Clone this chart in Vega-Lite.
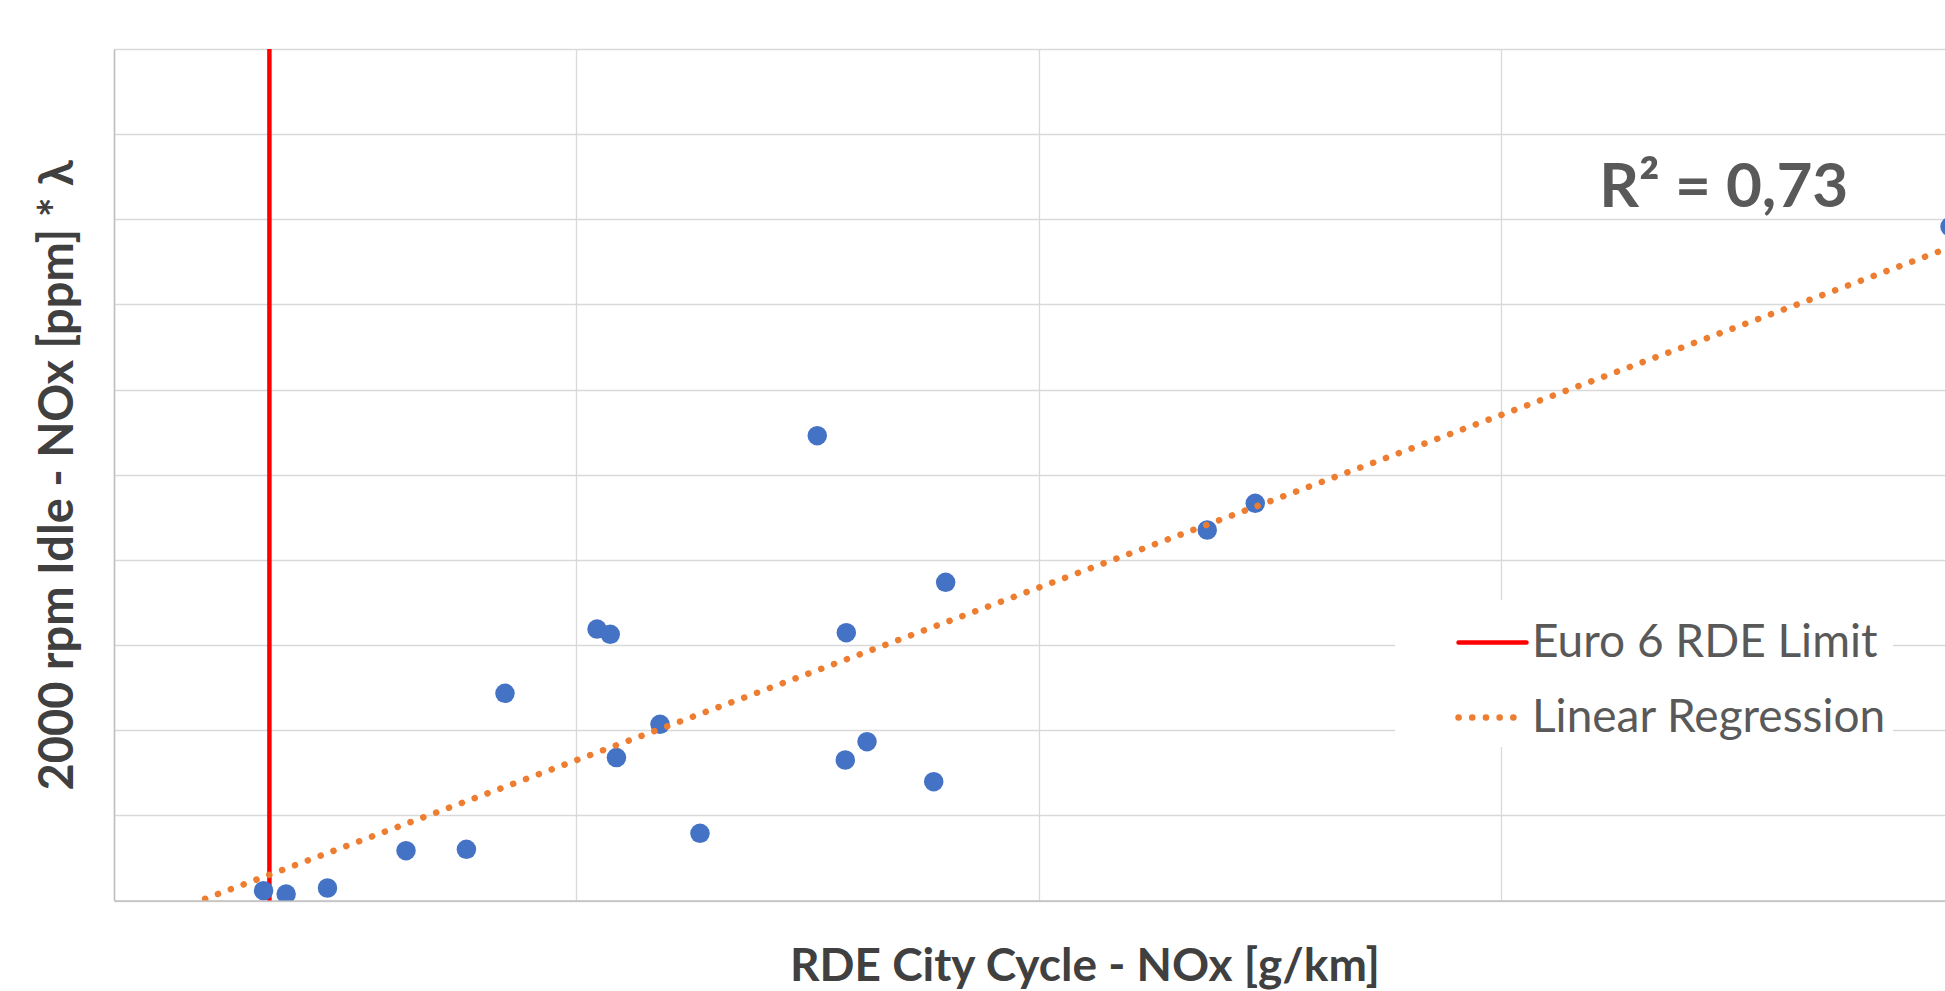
{
  "$schema": "https://vega.github.io/schema/vega-lite/v6.json",
  "width": 1831,
  "height": 851.5,
  "autosize": {"type": "none"},
  "padding": {"left": 114, "top": 49, "right": 0, "bottom": 90.5},
  "background": "white",
  "config": {"view": {"stroke": null}, "font": "Lato"},
  "datasets": {
    "points": [
      {"x": 0.1617, "y": 11.5},
      {"x": 0.1861, "y": 7.6},
      {"x": 0.2308, "y": 14.7},
      {"x": 0.3157, "y": 58.5},
      {"x": 0.3810, "y": 60.1},
      {"x": 0.4227, "y": 243.3},
      {"x": 0.5222, "y": 318.8},
      {"x": 0.5365, "y": 312.6},
      {"x": 0.5432, "y": 167.9},
      {"x": 0.5903, "y": 206.9},
      {"x": 0.6335, "y": 78.9},
      {"x": 0.7603, "y": 545.9},
      {"x": 0.7906, "y": 165.0},
      {"x": 0.7917, "y": 314.5},
      {"x": 0.8141, "y": 186.5},
      {"x": 0.8862, "y": 139.5},
      {"x": 0.8991, "y": 373.7},
      {"x": 1.1819, "y": 435.1},
      {"x": 1.2338, "y": 466.5},
      {"x": 1.9849, "y": 791.3}
    ],
    "limit": [
      {"series": "Euro 6 RDE Limit", "x": 0.168, "y": 0},
      {"series": "Euro 6 RDE Limit", "x": 0.168, "y": 1000}
    ],
    "trend": [
      {"series": "Linear Regression", "x": 0.0985, "y": 2},
      {"series": "Linear Regression", "x": 2.0, "y": 773.1}
    ],
    "label": [
      {"x": 1.6057, "y": 814.1, "text": "R² = 0,73"}
    ]
  },
  "encoding": {
    "x": {
      "field": "x",
      "type": "quantitative",
      "scale": {"domain": [0, 1.9795], "nice": false, "zero": false},
      "axis": {
        "title": "RDE City Cycle - NOx [g/km]",
        "values": [0, 0.5, 1, 1.5],
        "labels": false,
        "ticks": false,
        "grid": true,
        "gridColor": "#D9D9D9",
        "gridWidth": 1.3,
        "domainColor": "#BFBFBF",
        "domainWidth": 1.5,
        "titleFont": "Lato",
        "titleFontWeight": "bold",
        "titleFontSize": 46,
        "titleColor": "#404040",
        "titleX": 970.5,
        "titleY": 80,
        "titleAlign": "center",
        "titleBaseline": "alphabetic"
      }
    },
    "y": {
      "field": "y",
      "type": "quantitative",
      "scale": {"domain": [0, 1000], "nice": false, "zero": false},
      "axis": {
        "title": "2000 rpm Idle - NOx [ppm] * λ",
        "values": [0, 100, 200, 300, 400, 500, 600, 700, 800, 900, 1000],
        "labels": false,
        "ticks": false,
        "grid": true,
        "gridColor": "#D9D9D9",
        "gridWidth": 1.3,
        "domainColor": "#BFBFBF",
        "domainWidth": 1.5,
        "titleFont": "Lato",
        "titleFontWeight": "bold",
        "titleFontSize": 47,
        "titleColor": "#404040",
        "titleX": -32,
        "titleY": 425.75,
        "titleAngle": 270,
        "titleAlign": "center",
        "titleBaseline": "bottom"
      }
    }
  },
  "layer": [
    {
      "data": {"name": "limit"},
      "mark": {"type": "line", "clip": true, "strokeCap": "round"},
      "encoding": {
        "color": {
          "field": "series",
          "type": "nominal",
          "scale": {"domain": ["Euro 6 RDE Limit", "Linear Regression"], "range": ["#FF0000", "#ED7D31"]},
          "legend": {
            "orient": "none",
            "legendX": 1281,
            "legendY": 551,
            "title": null,
            "symbolType": "stroke",
            "symbolSize": 4624,
            "symbolOffset": 54,
            "labelFontSize": 46,
            "labelFont": "Lato",
            "labelColor": "#595959",
            "labelOffset": 2,
            "labelLimit": 1000,
            "rowPadding": 14,
            "padding": 6,
            "fillColor": "white",
            "encode": {"symbols": {"update": {"strokeCap": {"value": "round"}}}}
          }
        },
        "strokeDash": {
          "field": "series",
          "type": "nominal",
          "scale": {"domain": ["Euro 6 RDE Limit", "Linear Regression"], "range": [[1, 0], [0.1, 13.6]]}
        },
        "strokeWidth": {
          "field": "series",
          "type": "ordinal",
          "scale": {"domain": ["Euro 6 RDE Limit", "Linear Regression"], "range": [4.5, 6.5]}
        },
        "order": {"field": "y", "type": "quantitative"}
      }
    },
    {
      "data": {"name": "points"},
      "mark": {"type": "circle", "size": 380, "color": "#4472C4", "opacity": 1, "clip": true}
    },
    {
      "data": {"name": "trend"},
      "mark": {"type": "line", "clip": true, "strokeCap": "round"},
      "encoding": {
        "color": {
          "field": "series",
          "type": "nominal",
          "scale": {"domain": ["Euro 6 RDE Limit", "Linear Regression"], "range": ["#FF0000", "#ED7D31"]},
          "legend": {
            "orient": "none",
            "legendX": 1281,
            "legendY": 551,
            "title": null,
            "symbolType": "stroke",
            "symbolSize": 4624,
            "symbolOffset": 54,
            "labelFontSize": 46,
            "labelFont": "Lato",
            "labelColor": "#595959",
            "labelOffset": 2,
            "labelLimit": 1000,
            "rowPadding": 14,
            "padding": 6,
            "fillColor": "white",
            "encode": {"symbols": {"update": {"strokeCap": {"value": "round"}}}}
          }
        },
        "strokeDash": {
          "field": "series",
          "type": "nominal",
          "scale": {"domain": ["Euro 6 RDE Limit", "Linear Regression"], "range": [[1, 0], [0.1, 13.6]]}
        },
        "strokeWidth": {
          "field": "series",
          "type": "ordinal",
          "scale": {"domain": ["Euro 6 RDE Limit", "Linear Regression"], "range": [4.5, 6.5]}
        },
        "order": {"field": "y", "type": "quantitative"}
      }
    },
    {
      "data": {"name": "label"},
      "mark": {"type": "text", "font": "Lato", "fontWeight": "bold", "fontSize": 62, "color": "#595959", "align": "left", "baseline": "alphabetic"},
      "encoding": {"text": {"field": "text", "type": "nominal"}}
    }
  ]
}
